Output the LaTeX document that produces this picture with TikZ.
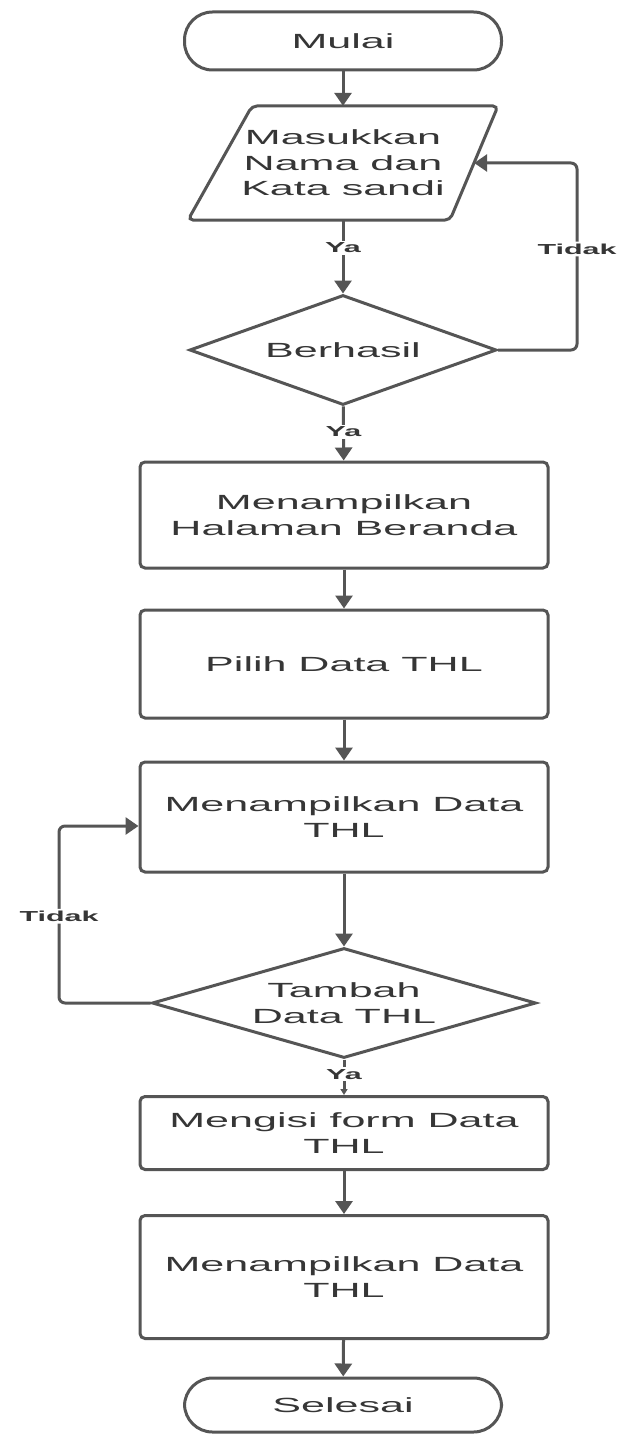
\documentclass[tikz,border=0pt]{standalone}
\usepackage{fontspec}
\setmainfont{Liberation Sans}
% wide sans face used for all flowchart text
\newfontfamily\wfont[FakeStretch=2.1]{Liberation Sans}
\usetikzlibrary{arrows.meta,shapes.geometric}

\definecolor{ln}{HTML}{555555}
\definecolor{tx}{HTML}{363636}

\begin{document}
\begin{tikzpicture}[x=1pt,y=-1pt,
  line/.style={draw=ln, line width=3pt},
  flow/.style={line, -{Triangle[length=13pt,width=17pt]}},
  txt/.style={inner sep=0pt, align=center, text=tx,
    font=\wfont\fontsize{20.5}{25.5}\selectfont},
  proc/.style={txt, line, rounded corners=5pt, minimum width=408pt},
  term/.style={txt, line, rounded corners=28pt, minimum width=317pt},
  decide/.style={txt, line, diamond, aspect=3.5},
  lbl/.style={fill=white, inner sep=2pt, text=tx,
    font=\wfont\bfseries\fontsize{14.5}{16}\selectfont}
]
\useasboundingbox[fill=white] (0,0) rectangle (625,1434);

% nodes
\node[term, minimum height=58pt] (mulai) at (343,41) {Mulai};
\node[txt, minimum width=262pt, minimum height=114pt] (input) at (343,163)
  {Masukkan\\Nama dan\\Kata sandi};
\draw[line, rounded corners=5pt] (188,220) -- (252,106) -- (498,106)
  -- (450,220) -- cycle;
\node[decide, minimum width=307pt, minimum height=110pt] (berhasil) at (343,350) {Berhasil};
\node[proc, minimum height=106pt] (beranda) at (344,515) {Menampilkan\\Halaman Beranda};
\node[proc, minimum height=108pt] (pilih) at (344,664) {Pilih Data THL};
\node[proc, minimum height=110pt] (tampil) at (344,817) {Menampilkan Data\\THL};
\node[decide, minimum width=384pt, minimum height=110pt] (tambah) at (344,1003) {Tambah\\Data THL};
\node[proc, minimum height=73pt] (isi) at (344,1133) {Mengisi form Data\\THL};
\node[proc, minimum height=123pt] (hasil) at (344,1277) {Menampilkan Data\\THL};
\node[term, minimum height=54pt] (selesai) at (343,1405) {Selesai};

\coordinate (rloop) at (577,163);
\coordinate (lloop) at (59,826);

% connectors
\draw[flow] (mulai) -- (input);
\draw[flow] (input) -- node[lbl, pos=0.38] {Ya} (berhasil);
\draw[flow, rounded corners=6pt] (berhasil.east) -| (rloop)
  node[lbl, pos=0.77] {Tidak} -- (input.east);
\draw[flow] (berhasil) -- node[lbl, pos=0.47] {Ya} (beranda);
\draw[flow] (beranda) -- (pilih);
\draw[flow] (pilih) -- (tampil);
\draw[flow] (tampil) -- (tambah);
\draw[flow, rounded corners=6pt] (tambah.west) -| (lloop)
  node[lbl, pos=0.745] {Tidak} -- (lloop -| tampil.west);
\draw[flow, -{Triangle[length=6pt,width=7pt]}] (tambah) -- node[lbl, pos=0.42] {Ya} (isi);
\draw[flow] (isi) -- (hasil);
\draw[flow] (hasil) -- (selesai);
\end{tikzpicture}
\end{document}
